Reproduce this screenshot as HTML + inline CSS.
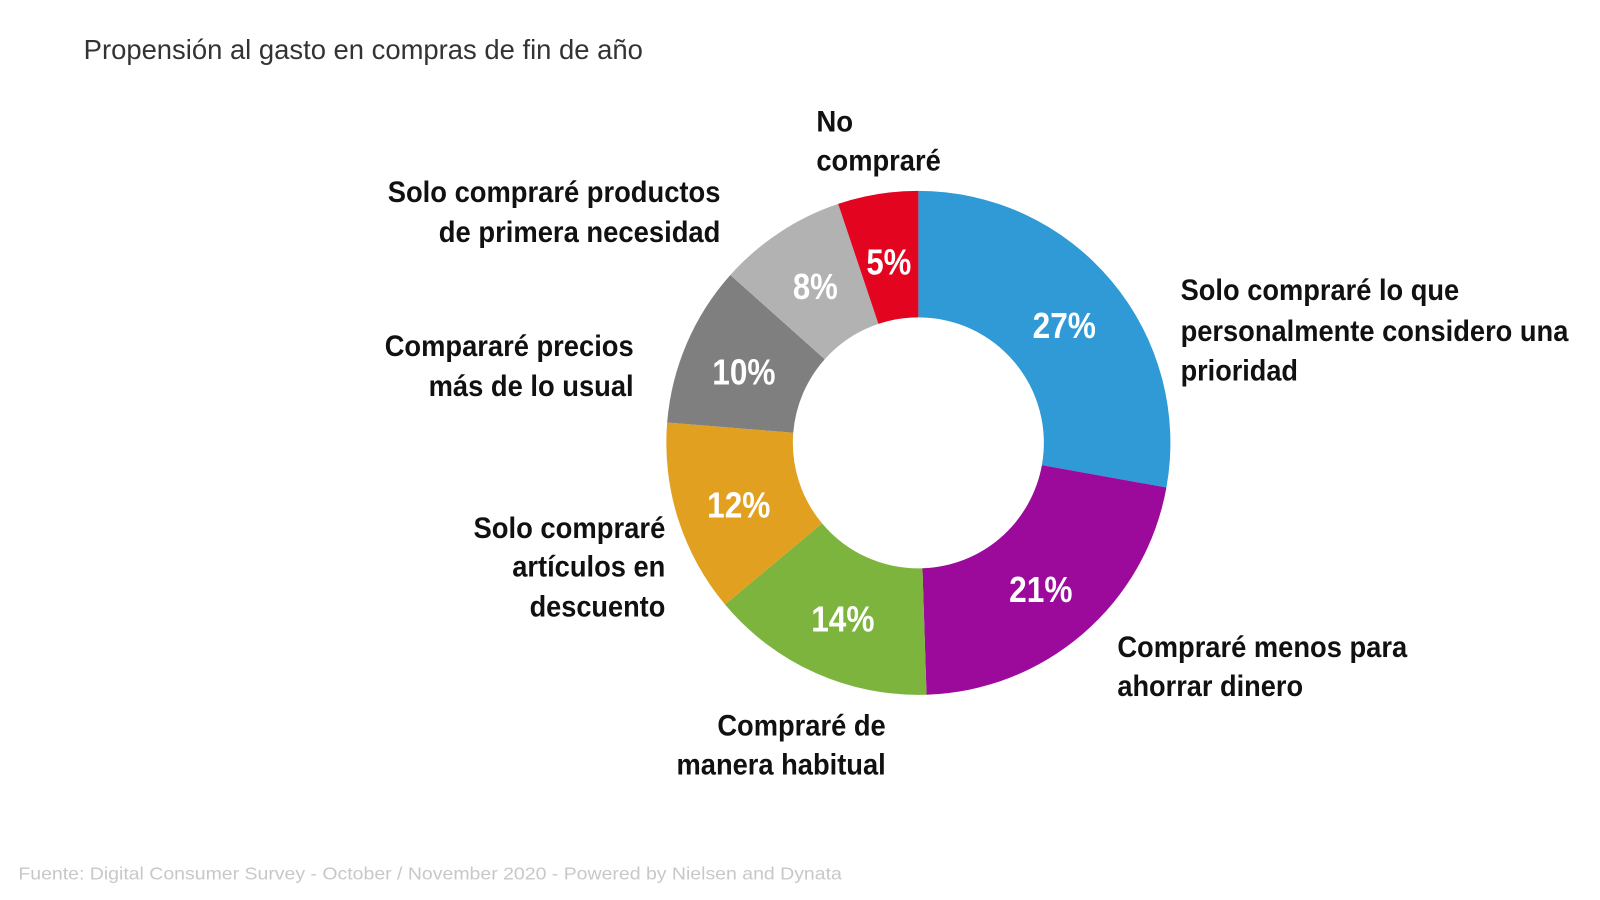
<!DOCTYPE html>
<html><head><meta charset="utf-8"><style>
html,body{margin:0;padding:0;background:#fff;width:1600px;height:900px;overflow:hidden}
svg{display:block}
.l{font-family:"Liberation Sans",Arial,sans-serif;font-weight:bold;font-size:29px;fill:#111}
.p{font-family:"Liberation Sans",Arial,sans-serif;font-weight:bold;font-size:35px;fill:#fff;text-anchor:middle}
</style></head><body>
<svg width="1600" height="900" viewBox="0 0 1568 882" xmlns="http://www.w3.org/2000/svg">
<g id="donut"></g>
<text x="82" y="58" font-family="Liberation Sans, Arial, sans-serif" font-size="27" fill="#333" textLength="548" lengthAdjust="spacingAndGlyphs">Propensión al gasto en compras de fin de año</text>
<text x="18" y="862" font-family="Liberation Sans, Arial, sans-serif" font-size="17" fill="#c8c8c8" textLength="807" lengthAdjust="spacingAndGlyphs">Fuente: Digital Consumer Survey - October / November 2020 - Powered by Nielsen and Dynata</text>

<text class="l" x="800" y="129" textLength="36" lengthAdjust="spacingAndGlyphs">No</text>
<text class="l" x="800" y="167" textLength="122" lengthAdjust="spacingAndGlyphs">compraré</text>
<text class="l" x="380" y="198" textLength="326" lengthAdjust="spacingAndGlyphs">Solo compraré productos</text>
<text class="l" x="430" y="237" textLength="276" lengthAdjust="spacingAndGlyphs">de primera necesidad</text>
<text class="l" x="377" y="349" textLength="244" lengthAdjust="spacingAndGlyphs">Compararé precios</text>
<text class="l" x="420" y="388" textLength="201" lengthAdjust="spacingAndGlyphs">más de lo usual</text>
<text class="l" x="464" y="527" textLength="188" lengthAdjust="spacingAndGlyphs">Solo compraré</text>
<text class="l" x="502" y="565" textLength="150" lengthAdjust="spacingAndGlyphs">artículos en</text>
<text class="l" x="519" y="604" textLength="133" lengthAdjust="spacingAndGlyphs">descuento</text>
<text class="l" x="703" y="721" textLength="165" lengthAdjust="spacingAndGlyphs">Compraré de</text>
<text class="l" x="663" y="759" textLength="205" lengthAdjust="spacingAndGlyphs">manera habitual</text>
<text class="l" x="1095" y="644" textLength="284" lengthAdjust="spacingAndGlyphs">Compraré menos para</text>
<text class="l" x="1095" y="682" textLength="182" lengthAdjust="spacingAndGlyphs">ahorrar dinero</text>
<text class="l" x="1157" y="294" textLength="273" lengthAdjust="spacingAndGlyphs">Solo compraré lo que</text>
<text class="l" x="1157" y="334" textLength="380" lengthAdjust="spacingAndGlyphs">personalmente considero una</text>
<text class="l" x="1157" y="373" textLength="115" lengthAdjust="spacingAndGlyphs">prioridad</text>

<text class="p" x="1043" y="331" textLength="62" lengthAdjust="spacingAndGlyphs">27%</text>
<text class="p" x="1020" y="590" textLength="62" lengthAdjust="spacingAndGlyphs">21%</text>
<text class="p" x="826" y="619" textLength="62" lengthAdjust="spacingAndGlyphs">14%</text>
<text class="p" x="724" y="507" textLength="62" lengthAdjust="spacingAndGlyphs">12%</text>
<text class="p" x="729" y="377" textLength="62" lengthAdjust="spacingAndGlyphs">10%</text>
<text class="p" x="799" y="293" textLength="44" lengthAdjust="spacingAndGlyphs">8%</text>
<text class="p" x="871" y="269" textLength="44" lengthAdjust="spacingAndGlyphs">5%</text>
</svg>
<script>
(function(){
var cx=900,cy=434,R=247,r=123;
var d=[[27,"#2f9ad6"],[21,"#9b0a9b"],[14,"#7db43e"],[12,"#e2a020"],[10,"#7f7f7f"],[8,"#b2b2b2"],[5,"#e3051f"]];
var tot=97,a=0,g=document.getElementById("donut"),s="";
function pt(rad,ang){return [(cx+rad*Math.sin(ang)).toFixed(2),(cy-rad*Math.cos(ang)).toFixed(2)];}
d.forEach(function(x){
 var a0=a/tot*2*Math.PI; a+=x[0]; var a1=a/tot*2*Math.PI;
 var lg=(a1-a0)>Math.PI?1:0;
 var p1=pt(R,a0),p2=pt(R,a1),p3=pt(r,a1),p4=pt(r,a0);
 s+='<path fill="'+x[1]+'" d="M'+p1+' A'+R+','+R+' 0 '+lg+' 1 '+p2+' L'+p3+' A'+r+','+r+' 0 '+lg+' 0 '+p4+' Z"/>';
});
g.innerHTML=s;
})();
</script>
</body></html>
